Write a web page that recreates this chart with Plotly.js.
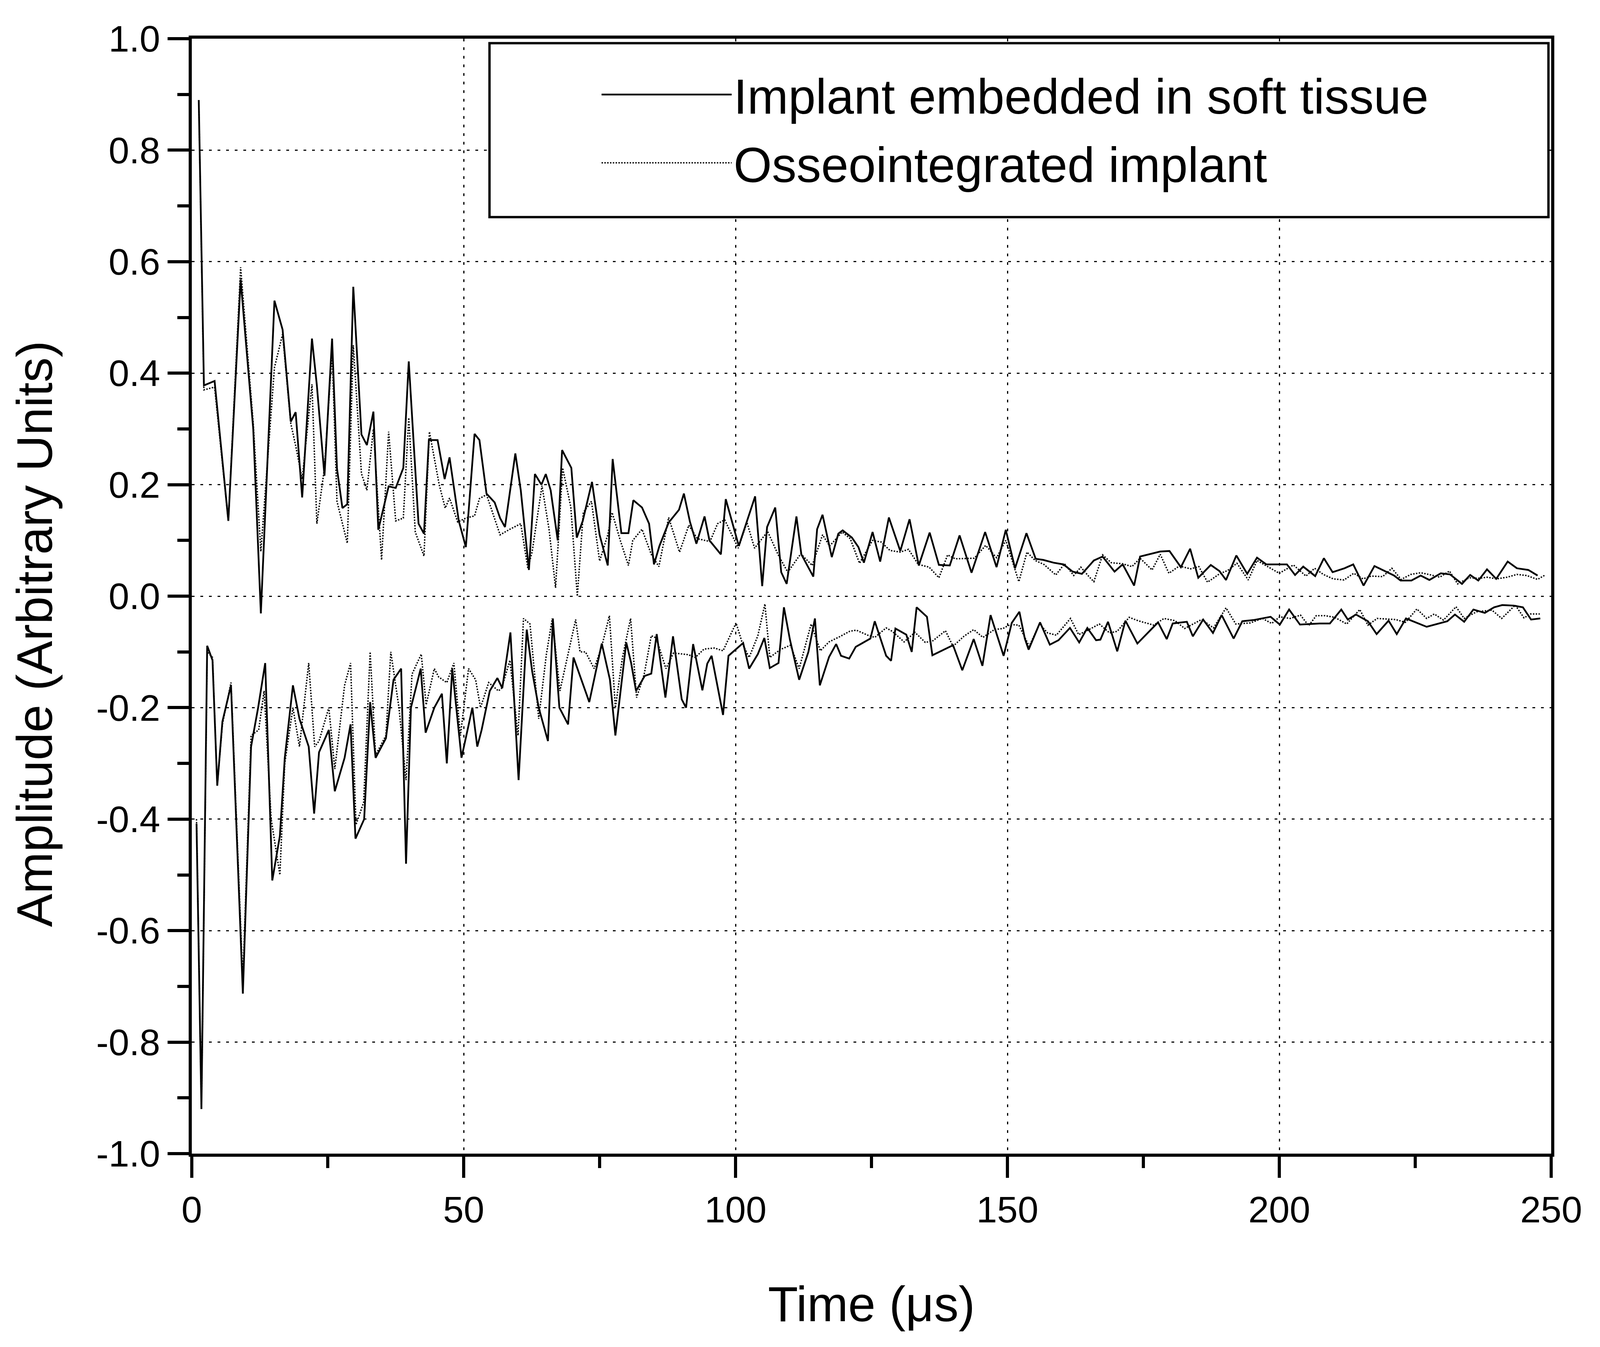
<!DOCTYPE html>
<html>
<head>
<meta charset="utf-8">
<script src="https://cdn.plot.ly/plotly-3.0.1.min.js"></script>
<style>
  html, body { margin: 0; padding: 0; background: #fff; overflow: hidden; }
  #chart { width: 100vw; height: 100vh; }
</style>
</head>
<body>
<div id="chart"></div>
<script>
// envelope of the received signal, implant in soft tissue (solid)
const softUpperT = [1.28,2.23,4.19,6.72,8.98,11.3,12.7,15.2,16.7,18.2,19.1,20.3,22.1,23.0,24.4,25.8,26.7,27.7,28.6,29.7,31.2,32.2,33.4,34.3,36.2,37.5,38.9,39.9,
  41.7,42.7,43.6,45.2,46.5,47.4,49.1,50.4,52.0,52.9,54.2,55.7,56.7,57.6,59.5,60.5,62.0,63.1,64.3,65.1,66.0,67.3,68.1,69.8,70.8,71.9,73.6,75.0,76.5,77.4,79.0,80.3,
  81.2,82.8,84.1,85.0,86.0,87.7,89.6,90.5,91.6,92.8,94.3,95.2,97.3,98.2,100.6,103.6,104.9,105.8,107.3,108.4,109.4,111.2,112.1,114.3,115.0,116.0,117.7,118.9,119.7,121.4,122.6,
  123.6,125.2,126.6,128.2,130.3,132.0,133.7,135.7,137.4,139.4,141.2,143.4,145.9,148.0,149.7,151.4,153.5,155.2,156.6,158.5,160.3,162.0,163.7,
  165.9,167.5,169.7,171.2,173.3,174.4,178.1,179.8,181.9,183.6,185.1,187.4,189.0,190.2,192.1,194.1,195.9,197.6,201.4,202.9,204.4,206.6,
  208.2,209.8,212.0,213.6,215.5,217.5,221.1,222.3,224.3,226.0,227.6,229.7,231.4,233.6,235.1,236.6,238.2,239.9,242.0,243.7,245.8,247.5];
const softUpperV = [0.89,0.378,0.386,0.135,0.568,0.30,-0.031,0.53,0.478,0.313,0.33,0.177,0.462,0.378,0.216,0.462,0.229,0.158,0.165,0.555,0.29,0.271,0.331,0.119,0.197,0.194,0.23,0.421,
  0.13,0.112,0.28,0.28,0.21,0.249,0.135,0.088,0.291,0.28,0.184,0.168,0.14,0.124,0.256,0.19,0.047,0.219,0.2,0.219,0.19,0.1,0.262,0.23,0.105,0.135,0.205,0.11,0.055,0.246,0.113,0.113,
  0.172,0.159,0.13,0.057,0.09,0.132,0.155,0.184,0.134,0.094,0.143,0.1,0.075,0.174,0.09,0.179,0.018,0.124,0.159,0.043,0.022,0.143,0.075,0.035,0.12,0.146,0.07,0.112,0.118,0.105,0.088,
  0.06,0.115,0.062,0.141,0.081,0.138,0.055,0.114,0.056,0.055,0.109,0.042,0.115,0.052,0.119,0.05,0.113,0.067,0.065,0.06,0.057,0.044,0.04,
  0.064,0.071,0.044,0.057,0.019,0.071,0.08,0.081,0.052,0.085,0.033,0.056,0.045,0.029,0.073,0.04,0.069,0.057,0.057,0.038,0.053,0.036,
  0.068,0.043,0.05,0.057,0.019,0.054,0.037,0.028,0.028,0.037,0.029,0.041,0.039,0.022,0.038,0.028,0.048,0.031,0.062,0.050,0.047,0.037];

const softLowerT = [0.87,1.77,2.83,3.81,4.68,5.63,7.21,9.39,10.9,12.2,13.5,14.8,16.2,17.1,18.6,19.8,21.5,22.5,23.4,25.2,26.3,28.1,29.2,30.1,31.7,32.8,33.8,35.7,37.1,38.5,39.4,40.3,
  42.1,43.0,44.6,46.0,46.9,47.9,49.6,51.6,52.5,53.3,54.8,56.2,57.1,58.6,60.1,61.6,62.6,63.8,65.5,66.4,67.6,69.2,70.2,71.3,73.1,75.4,76.9,77.9,79.9,80.8,
  81.7,83.3,84.5,85.5,87.1,88.5,90.1,90.9,92.2,93.9,94.8,95.6,97.7,98.7,101.4,102.5,104.1,105.3,106.3,107.9,108.9,110.0,111.7,113.4,114.6,115.5,117.2,118.5,119.4,120.9,122.1,
  123.0,124.8,125.6,127.7,128.6,129.4,131.4,132.4,133.3,135.2,136.2,140.0,141.7,143.8,145.4,146.9,149.3,150.8,152.2,153.2,153.9,156.0,157.8,159.4,161.5,163.2,164.7,
  166.3,167.1,168.5,170.2,171.7,173.9,175.7,177.7,179.3,180.4,183.0,184.1,186.0,187.8,189.4,191.6,193.2,195.2,198.4,200.1,201.8,203.8,207.4,
  209.3,211.4,212.6,214.1,216.3,217.9,220.1,221.6,223.3,227.1,230.9,232.3,234.0,235.7,237.8,239.5,241.0,243.1,244.8,246.3,248.0];
const softLowerV = [-0.408,-0.92,-0.089,-0.115,-0.34,-0.225,-0.16,-0.713,-0.27,-0.2,-0.12,-0.51,-0.43,-0.29,-0.16,-0.22,-0.27,-0.39,-0.28,-0.24,-0.35,-0.29,-0.23,-0.435,-0.4,-0.19,-0.29,-0.255,-0.15,-0.13,-0.48,-0.2,
  -0.13,-0.245,-0.2,-0.175,-0.3,-0.13,-0.29,-0.2,-0.27,-0.24,-0.17,-0.147,-0.165,-0.065,-0.33,-0.06,-0.135,-0.2,-0.26,-0.04,-0.2,-0.23,-0.11,-0.14,-0.19,-0.085,-0.15,-0.25,-0.083,-0.12,
  -0.17,-0.143,-0.139,-0.068,-0.182,-0.072,-0.185,-0.2,-0.086,-0.169,-0.121,-0.107,-0.213,-0.107,-0.084,-0.13,-0.104,-0.075,-0.129,-0.12,-0.02,-0.078,-0.15,-0.1,-0.04,-0.16,-0.109,-0.086,-0.107,-0.112,-0.091,
  -0.086,-0.076,-0.045,-0.107,-0.116,-0.058,-0.069,-0.1,-0.02,-0.037,-0.106,-0.088,-0.133,-0.077,-0.125,-0.034,-0.107,-0.048,-0.028,-0.076,-0.096,-0.047,-0.087,-0.079,-0.057,-0.083,-0.057,
  -0.079,-0.078,-0.046,-0.099,-0.044,-0.085,-0.067,-0.047,-0.077,-0.049,-0.046,-0.072,-0.042,-0.066,-0.034,-0.076,-0.045,-0.043,-0.037,-0.051,-0.024,-0.051,-0.049,
  -0.049,-0.024,-0.042,-0.033,-0.045,-0.068,-0.044,-0.068,-0.04,-0.055,-0.045,-0.033,-0.046,-0.024,-0.03,-0.02,-0.016,-0.017,-0.02,-0.042,-0.04];

// osseointegrated implant (dotted)
const boneUpperT = [1.28,2.23,4.19,6.72,8.98,11.3,12.7,15.2,16.7,18.2,19.1,20.3,22.1,23.0,24.4,25.8,26.7,28.6,29.7,31.2,32.2,33.4,34.9,36.2,37.5,38.9,39.9,
  41.1,42.7,43.7,45.5,46.6,47.4,48.9,50.4,52.0,52.9,54.2,56.7,58.5,60.5,61.8,62.6,64.4,65.7,66.9,68.2,69.7,70.9,72.0,73.5,75.0,76.5,77.3,78.8,80.3,
  81.1,82.8,84.5,85.9,87.7,89.7,91.4,93.0,95.3,96.7,98.0,100.5,102.1,103.5,105.9,107.8,109.6,112.0,114.1,116.0,117.3,119.6,121.1,122.8,
  125.2,126.8,128.4,130.3,131.8,133.6,135.6,137.4,139.0,140.4,143.9,146.0,148.0,149.7,152.1,153.6,155.1,156.7,158.9,160.5,162.2,163.5,
  165.0,165.9,167.5,169.1,171.2,172.9,174.4,176.6,178.1,179.7,181.6,183.7,185.2,186.8,189.0,190.5,192.2,194.3,195.9,200.0,202.6,204.9,206.5,
  208.1,209.9,211.9,213.7,215.4,216.9,219.0,220.7,222.4,224.2,226.0,227.9,229.5,231.3,232.8,234.9,236.8,238.2,240.0,241.9,243.7,245.5,247.5,248.9];
const boneUpperV = [0.89,0.37,0.375,0.135,0.59,0.31,0.08,0.41,0.47,0.31,0.27,0.21,0.38,0.13,0.23,0.44,0.17,0.095,0.45,0.22,0.19,0.30,0.065,0.295,0.135,0.14,0.32,
  0.115,0.072,0.295,0.2,0.158,0.176,0.133,0.14,0.144,0.175,0.182,0.11,0.12,0.13,0.05,0.08,0.198,0.12,0.015,0.23,0.16,0.0,0.15,0.17,0.063,0.11,0.15,0.1,0.055,
  0.1,0.12,0.075,0.053,0.141,0.079,0.127,0.103,0.098,0.13,0.137,0.086,0.132,0.086,0.116,0.075,0.043,0.076,0.055,0.11,0.09,0.115,0.103,0.059,
  0.1,0.097,0.082,0.079,0.084,0.057,0.052,0.033,0.074,0.067,0.068,0.091,0.069,0.1,0.026,0.079,0.064,0.057,0.038,0.058,0.037,0.052,
  0.035,0.026,0.074,0.06,0.058,0.053,0.068,0.047,0.075,0.041,0.054,0.049,0.053,0.025,0.04,0.046,0.059,0.029,0.064,0.041,0.056,0.036,0.05,
  0.039,0.031,0.029,0.041,0.031,0.036,0.035,0.05,0.03,0.039,0.042,0.038,0.034,0.045,0.022,0.033,0.032,0.034,0.031,0.034,0.039,0.037,0.03,0.038];

const boneLowerT = [0.87,1.77,2.83,3.81,4.68,5.63,7.21,9.39,10.9,12.3,13.3,14.6,16.2,17.1,18.6,19.8,21.5,22.6,23.4,25.2,26.3,28.1,29.2,30.2,31.6,32.8,33.8,35.7,36.6,38.1,39.4,40.5,
  42.2,43.1,44.6,45.4,46.9,48.2,49.4,50.9,52.2,53.1,54.6,56.4,57.0,58.5,60.0,61.0,62.2,63.8,65.2,66.3,67.7,70.6,71.4,72.4,74.0,75.4,76.8,77.9,79.2,80.7,
  81.8,83.2,84.5,85.4,87.2,88.6,91.3,92.6,94.2,96.1,97.7,100.1,101.3,102.5,104.1,105.4,106.3,108.2,110.1,111.7,113.9,115.6,117.2,119.1,121.0,122.2,
  124.3,125.6,127.7,128.8,131.0,133.0,134.9,136.3,138.6,140.0,142.0,143.8,145.5,147.6,149.2,150.5,152.1,154.0,155.9,157.4,159.0,161.6,163.1,
  165.0,166.9,168.8,170.2,172.4,174.0,176.9,178.8,180.8,182.6,185.7,187.9,190.2,192.0,194.7,196.9,198.6,200.1,202.0,203.9,205.4,206.8,
  208.4,210.2,212.4,214.8,216.3,218.0,221.4,223.2,225.3,227.1,228.5,230.2,232.5,234.0,236.3,239.1,240.9,243.4,245.0,246.2,247.9];
const boneLowerV = [-0.40,-0.92,-0.1,-0.11,-0.34,-0.23,-0.155,-0.69,-0.25,-0.24,-0.17,-0.4,-0.5,-0.3,-0.2,-0.27,-0.12,-0.27,-0.26,-0.2,-0.31,-0.16,-0.12,-0.41,-0.37,-0.1,-0.285,-0.25,-0.1,-0.2,-0.33,-0.14,
  -0.104,-0.195,-0.13,-0.145,-0.155,-0.12,-0.25,-0.13,-0.15,-0.2,-0.155,-0.17,-0.165,-0.115,-0.25,-0.04,-0.05,-0.22,-0.105,-0.04,-0.17,-0.042,-0.1,-0.1,-0.13,-0.09,-0.035,-0.2,-0.11,-0.04,
  -0.182,-0.14,-0.071,-0.075,-0.13,-0.102,-0.105,-0.11,-0.095,-0.093,-0.098,-0.048,-0.086,-0.11,-0.071,-0.014,-0.11,-0.096,-0.088,-0.13,-0.05,-0.098,-0.082,-0.073,-0.063,-0.061,
  -0.07,-0.074,-0.057,-0.063,-0.082,-0.065,-0.083,-0.08,-0.062,-0.09,-0.072,-0.06,-0.074,-0.06,-0.058,-0.051,-0.052,-0.09,-0.05,-0.066,-0.07,-0.04,-0.069,
  -0.06,-0.05,-0.066,-0.063,-0.038,-0.044,-0.052,-0.04,-0.044,-0.058,-0.042,-0.057,-0.021,-0.05,-0.048,-0.04,-0.049,-0.037,-0.04,-0.034,-0.053,-0.035,
  -0.035,-0.038,-0.05,-0.024,-0.052,-0.04,-0.042,-0.047,-0.023,-0.04,-0.032,-0.043,-0.019,-0.04,-0.028,-0.025,-0.04,-0.016,-0.039,-0.032,-0.032];

const seriesNames = ["Implant embedded in soft tissue", "Osseointegrated implant"];
const xTitle = "Time (\u03bcs)";
const yTitle = "Amplitude (Arbitrary Units)";
const xTickVals = [0, 50, 100, 150, 200, 250];
const xTickText = ["0", "50", "100", "150", "200", "250"];
const yTickVals = [-1.0, -0.8, -0.6, -0.4, -0.2, 0.0, 0.2, 0.4, 0.6, 0.8, 1.0];
const yTickText = ["-1.0", "-0.8", "-0.6", "-0.4", "-0.2", "0.0", "0.2", "0.4", "0.6", "0.8", "1.0"];

const FONT = "Liberation Sans, Arial, sans-serif";

// the page fills whatever window it gets; sizes are tuned for 4553 x 3448
const W = document.documentElement.clientWidth || window.innerWidth;
const H = document.documentElement.clientHeight || window.innerHeight;
const sx = W / 4553, sy = H / 3448, s = Math.min(sx, sy);
const px = v => Math.max(1, Math.round(v * s));

function envelope(x, y, name, dash, width, showlegend) {
  return {
    x: x, y: y, name: name, legendgroup: name, showlegend: showlegend,
    type: "scatter", mode: "lines",
    line: { color: "#000", width: width, dash: dash },
    hoverinfo: "skip",
  };
}

const traces = [
  envelope(softUpperT, softUpperV, seriesNames[0], "solid", 5 * s, true),
  envelope(softLowerT, softLowerV, seriesNames[0], "solid", 5 * s, false),
  envelope(boneUpperT, boneUpperV, seriesNames[1], "dot", 4 * s, true),
  envelope(boneLowerT, boneLowerV, seriesNames[1], "dot", 4 * s, false),
];

function minorTicks(tick0, dtick) {
  return { tickmode: "linear", tick0: tick0, dtick: dtick, ticks: "outside",
    ticklen: px(32), tickwidth: px(9), tickcolor: "#000", showgrid: false };
}

const axisCommon = {
  showline: true, linecolor: "#000", linewidth: px(9), mirror: true,
  ticks: "outside", ticklen: px(60), tickwidth: px(9), tickcolor: "#000",
  tickfont: { family: FONT, size: px(106), color: "#000" },
  showgrid: true, gridcolor: "#000", gridwidth: px(3),
  griddash: px(8) + "px," + px(17) + "px",
  zeroline: false, tickmode: "array",
};

// legend rows sit ~248 and ~420 px from the top in the reference
const legendFont = px(140);
const legendTopPx = 248 * sy - 0.75 * legendFont;
const legendY = 1 - (legendTopPx - 99 * sy) / (2854 * sy);
const legendGap = Math.max(0, Math.round(172 * sy - 1.3 * legendFont));

const layout = {
  width: W, height: H,
  paper_bgcolor: "#fff", plot_bgcolor: "#fff",
  font: { family: FONT, color: "#000" },
  margin: { l: Math.round(546 * sx), r: Math.round(139 * sx), t: Math.round(99 * sy), b: Math.round(495 * sy) },
  showlegend: true,
  xaxis: Object.assign({}, axisCommon, {
    range: [0, 250], tickvals: xTickVals, ticktext: xTickText,
    minor: minorTicks(0, 25),
  }),
  yaxis: Object.assign({}, axisCommon, {
    range: [-1, 1], tickvals: yTickVals, ticktext: yTickText,
    minor: minorTicks(-1, 0.1),
  }),
  legend: {
    x: 0.30, y: legendY, xanchor: "left", yanchor: "top",
    bgcolor: "rgba(0,0,0,0)", borderwidth: 0,
    font: { family: FONT, size: legendFont, color: "#000" },
    itemwidth: px(370), tracegroupgap: legendGap,
  },
  annotations: [
    { text: xTitle, xref: "paper", yref: "paper", x: 0.5, y: -0.135,
      xanchor: "center", yanchor: "middle", showarrow: false,
      font: { family: FONT, size: px(140), color: "#000" } },
    { text: yTitle, xref: "paper", yref: "paper", x: -0.1158, y: 0.466,
      xanchor: "center", yanchor: "middle", showarrow: false, textangle: -90,
      font: { family: FONT, size: px(142), color: "#000" } },
  ],
  shapes: [{
    type: "rect", xref: "paper", yref: "paper",
    x0: 0.219, x1: 0.998, y0: 0.840, y1: 0.996,
    line: { color: "#000", width: px(7) }, fillcolor: "#fff", layer: "above",
  }],
};

Plotly.newPlot("chart", traces, layout, { staticPlot: true, displayModeBar: false });
</script>
</body>
</html>
